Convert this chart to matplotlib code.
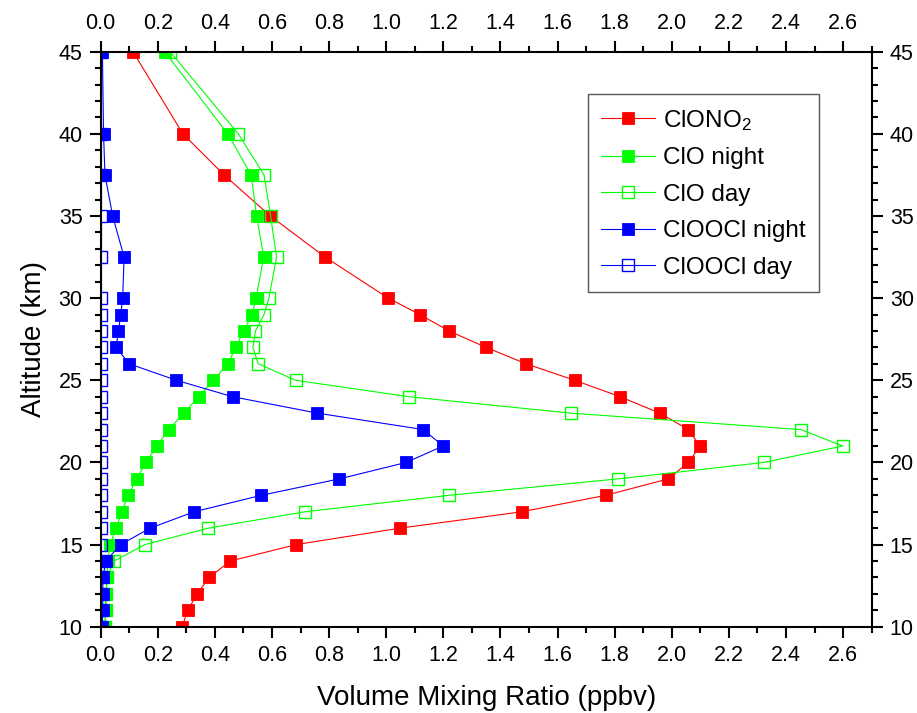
import numpy as np
import matplotlib
matplotlib.use("Agg")
import matplotlib.pyplot as plt
from matplotlib.ticker import MultipleLocator

plt.rcParams['font.family'] = ['Liberation Sans', 'DejaVu Sans']
plt.rcParams['mathtext.fontset'] = 'custom'
plt.rcParams['mathtext.rm'] = 'Liberation Sans'

# altitude levels (km), top to bottom
altitude = [45, 40, 37.5, 35, 32.5, 30, 29, 28, 27, 26, 25, 24, 23, 22, 21,
            20, 19, 18, 17, 16, 15, 14, 13, 12, 11, 10]

# volume mixing ratios (ppbv)
clono2 = [0.113, 0.288, 0.432, 0.594, 0.786, 1.007, 1.118, 1.220, 1.350, 1.490,
          1.660, 1.819, 1.958, 2.058, 2.099, 2.058, 1.988, 1.769, 1.476, 1.048,
          0.685, 0.454, 0.380, 0.338, 0.305, 0.285]
clo_night = [0.224, 0.445, 0.527, 0.546, 0.571, 0.544, 0.530, 0.501, 0.473, 0.445,
             0.394, 0.343, 0.292, 0.238, 0.198, 0.158, 0.127, 0.096, 0.074, 0.054,
             0.033, 0.025, 0.022, 0.019, 0.017, 0.015]
clo_day = [0.243, 0.482, 0.572, 0.595, 0.616, 0.589, 0.572, 0.542, 0.533, 0.552,
           0.683, 1.079, 1.646, 2.452, 2.599, 2.322, 1.813, 1.220, 0.716, 0.377,
           0.155, 0.047, 0.022, 0.019, 0.017, 0.015]
cloocl_night = [0.006, 0.010, 0.015, 0.042, 0.082, 0.077, 0.070, 0.062, 0.054, 0.100,
                0.265, 0.462, 0.759, 1.130, 1.199, 1.070, 0.836, 0.563, 0.328, 0.173,
                0.070, 0.018, 0.008, 0.007, 0.007, 0.006]
cloocl_day = [0.002] * len(altitude)

fig = plt.figure(figsize=(9.17, 7.13), dpi=100)
ax = fig.add_axes([0.1098, 0.121, 0.8408, 0.8065])

ms = 8.6
ax.plot(clono2, altitude, '-', color='#ff0000', lw=0.8, marker='s', ms=ms,
        mfc='#ff0000', mec='#ff0000', mew=0.6, label='ClONO$\\mathregular{_2}$')
ax.plot(clo_night, altitude, '-', color='#00ff00', lw=0.8, marker='s', ms=ms,
        mfc='#00ff00', mec='#00ff00', mew=0.6, label='ClO night')
ax.plot(clo_day, altitude, '-', color='#00ff00', lw=0.8, marker='s', ms=ms - 0.6,
        mfc='none', mec='#00ff00', mew=1.0, label='ClO day')
ax.plot(cloocl_night, altitude, '-', color='#0000ff', lw=0.8, marker='s', ms=ms,
        mfc='#0000ff', mec='#0000ff', mew=0.6, label='ClOOCl night')
ax.plot(cloocl_day, altitude, '-', color='#0000ff', lw=0.8, marker='s', ms=ms - 0.6,
        mfc='none', mec='#0000ff', mew=1.0, label='ClOOCl day')

ax.set_xlim(0, 2.7)
ax.set_ylim(10, 45)
ax.xaxis.set_major_locator(MultipleLocator(0.2))
ax.xaxis.set_minor_locator(MultipleLocator(0.1))
ax.yaxis.set_major_locator(MultipleLocator(5))
ax.yaxis.set_minor_locator(MultipleLocator(1))
ax.xaxis.set_major_formatter(plt.FuncFormatter(lambda v, p: '%.1f' % v))

for s in ax.spines.values():
    s.set_linewidth(1.5)
ax.tick_params(which='both', direction='out', top=True, right=True,
               labeltop=True, labelright=True, width=1.5, labelsize=15.5)
ax.tick_params(which='major', length=8, pad=5)
ax.tick_params(which='minor', length=4.5)

ax.set_xlabel('Volume Mixing Ratio (ppbv)', fontsize=20, labelpad=14)
ax.set_ylabel('Altitude (km)', fontsize=20, labelpad=8)

leg = ax.legend(loc='upper right', bbox_to_anchor=(0.9317, 0.926), fontsize=17.5,
                fancybox=False, edgecolor='#555555', framealpha=1,
                handlelength=2.2, handletextpad=0.35, labelspacing=0.6,
                borderpad=0.55, borderaxespad=0, numpoints=1)
leg.get_frame().set_linewidth(1.0)

fig.savefig('out.png', dpi=100)
